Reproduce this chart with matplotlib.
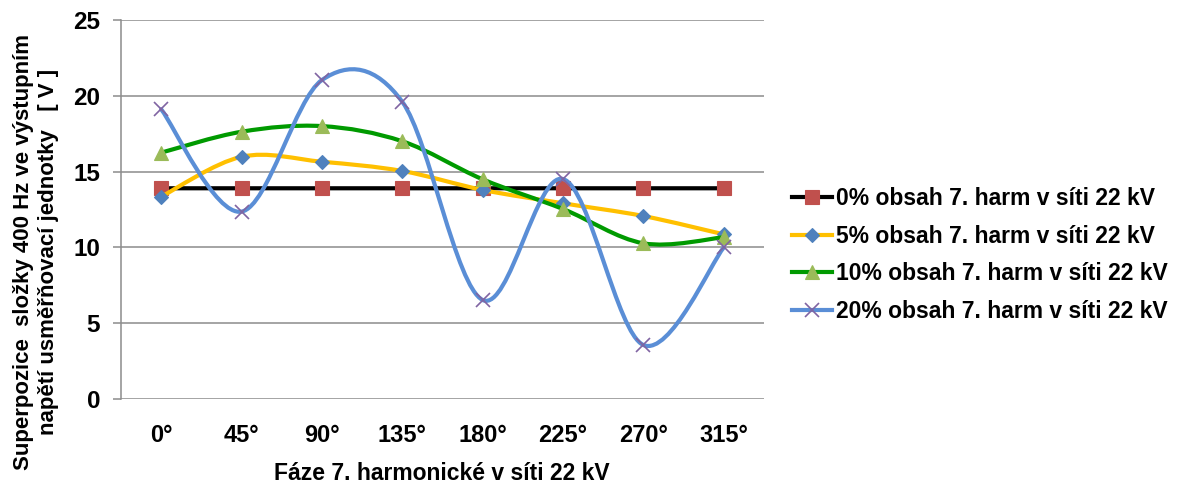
import matplotlib
matplotlib.use("Agg")
import matplotlib.pyplot as plt
from matplotlib.path import Path
from matplotlib.patches import PathPatch
from matplotlib.lines import Line2D

# Phase of the 7th harmonic (category axis)
phases = ["0°", "45°", "90°", "135°", "180°", "225°", "270°", "315°"]

# 400 Hz component at rectifier output [V] for each harmonic content
h0 = [13.9, 13.9, 13.9, 13.9, 13.9, 13.9, 13.9, 13.9]
h5 = [13.35, 15.98, 15.65, 15.04, 13.79, 12.91, 12.07, 10.86]
h10 = [16.25, 17.63, 18.0, 17.0, 14.49, 12.53, 10.27, 10.67]
h20 = [19.11, 12.36, 21.04, 19.6, 6.53, 14.51, 3.56, 10.0]

labels = [
    "0% obsah 7. harm v síti 22 kV",
    "5% obsah 7. harm v síti 22 kV",
    "10% obsah 7. harm v síti 22 kV",
    "20% obsah 7. harm v síti 22 kV",
]

plt.rcParams["font.family"] = ["Liberation Sans", "DejaVu Sans"]
plt.rcParams["font.weight"] = "bold"

fig = plt.figure(figsize=(11.81, 4.86), dpi=100)
ax = fig.add_axes([121 / 1181, 1 - 399 / 486, (764 - 121) / 1181, (399 - 20) / 486])


def smooth_path(xs, ys):
    """Cubic Bezier path through the points (Catmull-Rom style smoothing)."""
    n = len(xs)
    verts = [(xs[0], ys[0])]
    codes = [Path.MOVETO]
    for i in range(n - 1):
        x0, y0 = (xs[i - 1], ys[i - 1]) if i > 0 else (xs[i], ys[i])
        x1, y1 = xs[i], ys[i]
        x2, y2 = xs[i + 1], ys[i + 1]
        x3, y3 = (xs[i + 2], ys[i + 2]) if i + 2 < n else (x2, y2)
        c1 = (x1 + (x2 - x0) / 6.0, y1 + (y2 - y0) / 6.0)
        c2 = (x2 - (x3 - x1) / 6.0, y2 - (y3 - y1) / 6.0)
        verts += [c1, c2, (x2, y2)]
        codes += [Path.CURVE4] * 3
    return Path(verts, codes)


xs = list(range(len(phases)))

series = [
    (h0, "#000000", dict(marker="s", ms=10, mfc="#C0504D", mec="#C0504D", mew=0.8)),
    (h5, "#FFC000", dict(marker="D", ms=7, mfc="#4F81BD", mec="#4F81BD", mew=0.8)),
    (h10, "#009A00", dict(marker="^", ms=10, mfc="#9BBB59", mec="#9BBB59", mew=0.8)),
    (h20, "#5A8ED6", dict(marker="x", ms=10, mfc="none", mec="#8064A2", mew=1.2)),
]

handles = []
for k, (vals, lc, mk) in enumerate(series):
    z = 3 + 2 * k
    patch = PathPatch(smooth_path(xs, vals), facecolor="none", edgecolor=lc,
                      lw=3.0, capstyle="round", joinstyle="round", zorder=z)
    ax.add_patch(patch)
    ax.plot(xs, vals, linestyle="none", zorder=z + 1, **mk)
    handles.append(Line2D([], [], color=lc, lw=3.0, **mk))

ax.set_xlim(-0.5, 7.5)
ax.set_ylim(0, 25)
ax.set_yticks([0, 5, 10, 15, 20, 25])
ax.set_xticks(xs)
ax.set_xticklabels(phases)

grid_c = "#8C8C8C"
ax.yaxis.grid(True, color=grid_c, lw=1.1)
ax.xaxis.grid(False)
ax.set_axisbelow(True)
for s in ["top", "right", "bottom"]:
    ax.spines[s].set_visible(False)
ax.spines["left"].set_color(grid_c)
ax.spines["left"].set_linewidth(1.1)

ax.tick_params(axis="y", length=6, width=1.1, color=grid_c, pad=9, labelsize=17.5)
ax.tick_params(axis="x", length=0, pad=18, labelsize=17)
for t in ax.get_xticklabels() + ax.get_yticklabels():
    t.set_fontweight("bold")

fig.text(442 / 1181, 1 - 473 / 486, "Fáze 7. harmonické v síti 22 kV",
         ha="center", va="center", fontsize=16.5, fontweight="bold")
fig.text(36 / 1181, 1 - 252 / 486,
         "Superpozice  složky 400 Hz ve výstupním\nnapětí usměřňovací jednotky   [ V ]",
         ha="center", va="center", rotation=90, fontsize=16, fontweight="bold",
         linespacing=1.25, multialignment="center")

leg = fig.legend(handles, labels, loc="center left",
                 bbox_to_anchor=(792 / 1181, 1 - 255 / 486),
                 frameon=False, fontsize=16.5, handlelength=1.75, handletextpad=0.17,
                 labelspacing=0.64, borderaxespad=0, borderpad=0)
for t in leg.get_texts():
    t.set_fontweight("bold")

fig.savefig("out.png", dpi=100)
